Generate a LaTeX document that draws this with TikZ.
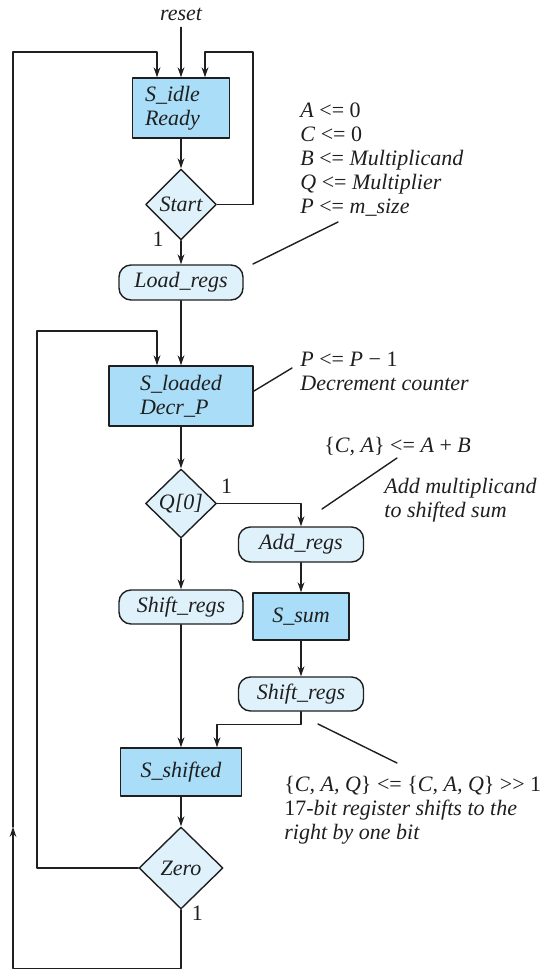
\documentclass[tikz,border=0pt]{standalone}
\usepackage{fontspec}
\setmainfont{Liberation Serif}
\usetikzlibrary{
	arrows.meta,
	shapes.geometric,
	calc
}
\definecolor{SBlue}{RGB}{170,222,248}
\definecolor{DBlue}{RGB}{223,242,251}
\colorlet{Ink}{black!88}
\newcommand{\chartfont}{\fontsize{11}{12}\selectfont}
\newcommand{\asgn}{\textup{<=}}
\tikzset{
	flow/.style={->, draw=Ink, line width=0.7pt},
	aline/.style={draw=Ink, line width=0.7pt},
	stbox/.style={rectangle, draw=Ink, fill=SBlue, line width=0.7pt, inner sep=0pt, align=center},
	decision/.style={diamond, draw=Ink, fill=DBlue, line width=0.7pt, inner sep=0pt},
	action/.style={rectangle, rounded corners=6pt, draw=Ink, fill=DBlue, line width=0.7pt,
		inner sep=0pt, minimum width=62pt, minimum height=17.5pt},
	note/.style={anchor=north west, align=left, inner sep=0pt, text=Ink},
	onelbl/.style={inner sep=0pt, text=Ink}
}

\begin{document}
\begin{tikzpicture}[x=0.5pt, y=-0.5pt, font=\chartfont\itshape, text=Ink,
	>={Stealth[length=5pt, width=3.4pt]}, line cap=round, line join=round]
	\useasboundingbox (0,0) rectangle (548,970);
	
	% -- Idle state and start test --------------------------------
	\node[anchor=base] (reset) at (181,20) {reset};
	\node[stbox, minimum width=48.5pt, minimum height=30pt, text width=36pt, align=left]
		(idle) at (181,108) {S\_idle\\Ready};
	\node[decision, minimum width=35.5pt, minimum height=35.5pt] (start) at (181,204.5) {Start};
	\node[onelbl, anchor=base east] (one1) at ($(start.south)+(-17,6)$) {\textup{1}};
	\node[action] (load) at (181,282.5) {Load\_regs};
	
	\draw[flow] (reset) -- (idle);
	\draw[flow] (idle) -- (start);
	\draw[flow] (start) -- (load);
	\coordinate (rightTop) at (253,52);
	\draw[flow] (start.east) -| (rightTop) -| ($(idle.north)+(24,0)$);
	
	% -- Loaded state and Q[0] test -------------------------------
	\node[stbox, minimum width=72pt, minimum height=30pt, align=left]
		(loaded) at (181,396) {S\_loaded\\Decr\_P};
	\node[decision, minimum width=35.5pt, minimum height=34.5pt] (q0) at (181,503.5) {Q[0]};
	\node[onelbl, anchor=base west] (one2) at ($(q0.east)+(3.5,-10.5)$) {\textup{1}};
	
	\draw[flow] (load) -- (loaded);
	\draw[flow] (loaded) -- (q0);
	
	% -- Add branch (right column) --------------------------------
	\node[action, minimum width=62.5pt] (add) at (301,544.5) {Add\_regs};
	\node[stbox, minimum width=48pt, minimum height=23.5pt] (sum) at (301,616.5) {S\_sum};
	\node[action, minimum width=62.5pt, minimum height=17pt] (shiftR) at (301,694) {Shift\_regs};
	
	\draw[flow] (q0.east) -| (add.north);
	\draw[flow] (add) -- (sum);
	\draw[flow] (sum) -- (shiftR);
	
	% -- Shift branch and shifted state ---------------------------
	\node[action, minimum height=17pt] (shiftL) at (181,607) {Shift\_regs};
	\node[stbox, minimum width=60.5pt, minimum height=24pt] (shifted) at (181,772) {S\_shifted};
	\node[decision, minimum width=42pt, minimum height=41pt] (zero) at (181,868) {Zero};
	\node[onelbl, anchor=base west] (one3) at ($(zero.south)+(10.5,11)$) {\textup{1}};
	
	\draw[flow] (q0) -- (shiftL);
	\draw[flow] (shiftL) -- (shifted);
	\draw[flow] (shiftR.south) -- ++(0,13) -| ($(shifted.north)+(36,0)$);
	\draw[flow] (shifted) -- (zero);
	
	% Zero = 0: back to S_loaded
	\coordinate (innerTop) at (37,331);
	\draw[flow] (zero.west) -| (innerTop) -| ($(loaded.north)+(-24,0)$);
	
	% Zero = 1: back to S_idle
	\coordinate (outerMid) at (13,827);
	\coordinate (outerTop) at (13,52);
	\draw[flow] (zero.south) -- ++(0,59) -| (outerMid);
	\draw[flow] (outerMid) -- (outerTop) -| ($(idle.north)+(-24,0)$);
	
	% -- Register transfer notes ----------------------------------
	\node[note] (noteLoad) at (300,102)
		{A \asgn{} \textup{0}\\C \asgn{} \textup{0}\\B \asgn{} Multiplicand\\Q \asgn{} Multiplier\\P \asgn{} m\_size};
	\coordinate (nl1) at (253,264);
	\coordinate (nl2) at (338,222);
	\draw[aline] (nl1) -- (nl2);
	
	\node[note] (noteDecr) at (300,352) {P \asgn{} P \textup{− 1}\\Decrement counter};
	\coordinate (nd1) at (254,391);
	\coordinate (nd2) at (292,368);
	\draw[aline] (nd1) -- (nd2);
	
	\node[note] (noteSum) at (324,437) {\textup{\{}C, A\textup{\}} \asgn{} A \textup{+} B};
	\node[note] (noteAdd) at (384,478) {Add multiplicand\\to shifted sum};
	\coordinate (na1) at (322,509);
	\coordinate (na2) at (397,458);
	\draw[aline] (na1) -- (na2);
	
	\node[note] (noteShift) at (284,776)
		{\textup{\{}C, A, Q\textup{\}} \asgn{} \textup{\{}C, A, Q\textup{\}} \textup{>{}> 1}\\\textup{17}-bit register shifts to the\\right by one bit};
	\coordinate (ns1) at (318,724);
	\coordinate (ns2) at (397,763);
	\draw[aline] (ns1) -- (ns2);
	
\end{tikzpicture}
\end{document}
